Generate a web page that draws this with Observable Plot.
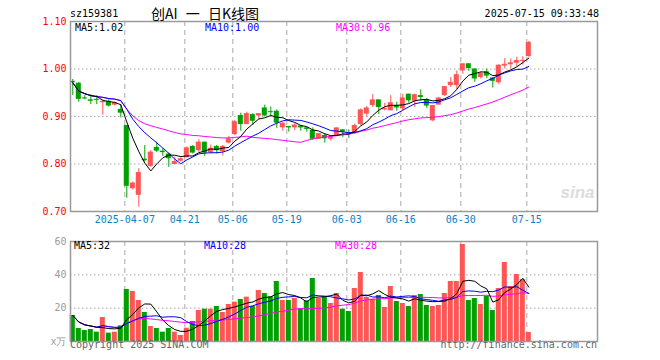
<!DOCTYPE html>
<html><head><meta charset="utf-8">
<script src="https://cdn.jsdelivr.net/npm/d3@7"></script>
<script src="https://cdn.jsdelivr.net/npm/@observablehq/plot@0.6"></script>
<style>
body{margin:0;background:#fff;}
#wrap{position:relative;width:660px;height:360px;overflow:hidden;font-family:"DejaVu Sans Mono",monospace;}
.t{position:absolute;white-space:pre;font-size:10px;line-height:12px;}
#wrap svg{position:absolute;left:0;}
</style></head><body><div id="wrap"></div>
<script>
// ---- data ----
const open = [0.974,0.970,0.939,0.935,0.936,0.929,0.932,0.924,0.915,0.881,
0.748,0.734,0.810,0.795,0.835,0.827,0.821,0.799,0.806,0.813,
0.837,0.828,0.846,0.824,0.837,0.826,0.844,0.862,0.902,0.883,
0.904,0.901,0.918,0.909,0.911,0.876,0.879,0.876,0.880,0.876,
0.871,0.852,0.860,0.852,0.858,0.872,0.865,0.865,0.883,0.905,
0.923,0.935,0.914,0.912,0.923,0.916,0.947,0.932,0.944,0.935,
0.891,0.924,0.944,0.965,0.965,0.996,1.011,1.000,0.982,0.994,
0.981,0.971,1.006,1.009,1.012,1.016,1.026];
const close = [0.971,0.936,0.937,0.932,0.934,0.932,0.922,0.929,0.907,0.753,
0.760,0.782,0.807,0.825,0.827,0.824,0.811,0.805,0.811,0.834,
0.823,0.846,0.823,0.833,0.828,0.837,0.853,0.889,0.883,0.906,
0.890,0.906,0.901,0.908,0.886,0.886,0.876,0.882,0.876,0.873,
0.852,0.864,0.853,0.856,0.876,0.867,0.863,0.881,0.914,0.918,
0.935,0.919,0.917,0.929,0.918,0.939,0.933,0.946,0.940,0.922,
0.923,0.939,0.963,0.972,0.988,1.011,1.001,0.979,0.991,0.985,
0.974,1.008,1.010,1.013,1.018,1.018,1.056];
const high = [0.978,0.972,0.944,0.946,0.944,0.934,0.935,0.930,0.925,0.881,
0.762,0.790,0.839,0.828,0.846,0.832,0.823,0.814,0.813,0.836,
0.839,0.851,0.846,0.840,0.839,0.839,0.858,0.892,0.907,0.909,
0.906,0.906,0.924,0.920,0.914,0.887,0.879,0.885,0.880,0.877,
0.876,0.864,0.864,0.858,0.876,0.872,0.872,0.884,0.916,0.921,
0.946,0.935,0.928,0.944,0.930,0.947,0.947,0.947,0.956,0.938,
0.923,0.940,0.963,0.982,0.996,1.011,1.011,1.000,0.993,1.000,
0.982,1.009,1.022,1.021,1.025,1.026,1.058];
const low = [0.944,0.930,0.935,0.925,0.925,0.903,0.920,0.922,0.897,0.728,
0.745,0.709,0.804,0.793,0.824,0.816,0.793,0.799,0.804,0.813,
0.821,0.824,0.816,0.821,0.821,0.817,0.842,0.860,0.869,0.883,
0.881,0.893,0.899,0.901,0.875,0.869,0.867,0.870,0.869,0.867,
0.850,0.852,0.844,0.848,0.858,0.856,0.854,0.863,0.881,0.898,
0.919,0.904,0.912,0.912,0.911,0.912,0.928,0.919,0.932,0.917,
0.889,0.924,0.942,0.961,0.956,0.989,0.995,0.972,0.979,0.980,
0.960,0.967,1.000,1.000,1.004,1.008,1.025];
const volume = [15.6,7.8,6.6,7.2,5.6,14.4,5.0,5.6,9.4,31.2,
30.0,24.6,17.4,9.0,7.8,5.6,7.8,5.6,3.6,8.0,
12.0,18.6,19.4,19.4,21.0,17.4,22.2,23.6,25.2,26.6,
21.0,30.6,28.8,26.8,36.0,24.6,24.6,25.8,19.6,24.4,
37.8,25.8,26.8,22.8,28.8,19.4,18.0,31.8,41.4,26.4,
25.4,27.6,20.4,33.0,24.0,22.8,21.0,27.6,28.2,21.6,
21.0,21.6,28.8,36.0,36.0,58.2,24.6,25.8,22.2,27.0,
18.6,31.8,47.4,33.0,40.2,37.2,5.4];
const tickIdx = [9,19,27,36,46,55,65,76];
const tickLabels = ["2025-04-07","04-21","05-06","05-19","06-03","06-16","06-30","07-15"];
const priceTicks = [0.70,0.80,0.90,1.00,1.10];
const volTicks = [0,20,40,60];
const priceMaLabels = ["MA5:1.02","MA10:1.00","MA30:0.96"];
const volMaLabels = ["MA5:32","MA10:28","MA30:28"];

// ---- build ----
const RED = "#ff5555", GREEN = "#00a000", GRID = "#a8a8a8", FRAME = "#9a9a9a";
const rows = open.map((o, i) => ({i, o, h: high[i], l: low[i], c: close[i], v: volume[i], up: close[i] >= o}));
const upRows = rows.filter(d => d.up), dnRows = rows.filter(d => !d.up);
const ma = (arr, n) => arr.map((_, i) => ({i, v: d3.mean(arr.slice(Math.max(0, i - n + 1), i + 1))}));
const xDomain = [-0.383, 87.45];
const font = {fontFamily: "'DejaVu Sans Mono', monospace", fontSize: "10px", background: "transparent", overflow: "visible"};
const W = 0.42;

function candles(data, color) {
  return [
    Plot.ruleX(data, {x: "i", y1: "l", y2: "h", stroke: color, strokeWidth: 1}),
    Plot.rect(data, {x1: d => d.i - W, x2: d => d.i + W,
      y1: d => Math.min(d.o, d.c),
      y2: d => Math.max(d.o, d.c, Math.min(d.o, d.c) + 0.0022),
      fill: color})
  ];
}
function maLines(arr) {
  return [
    Plot.line(ma(arr, 30), {x: "i", y: "v", stroke: "#ff00ff", strokeWidth: 1}),
    Plot.line(ma(arr, 10), {x: "i", y: "v", stroke: "#0000ff", strokeWidth: 1}),
    Plot.line(ma(arr, 5), {x: "i", y: "v", stroke: "#000", strokeWidth: 1})
  ];
}

const main = Plot.plot({
  width: 660, height: 232,
  marginLeft: 70, marginRight: 63, marginTop: 21, marginBottom: 21,
  x: {domain: xDomain, axis: null},
  y: {domain: [0.70, 1.10], axis: null},
  style: font,
  marks: [
    Plot.ruleY(priceTicks.slice(1, -1), {stroke: GRID, strokeDasharray: "1.5,2.5"}),
    Plot.ruleX(tickIdx, {x: d => d - 0.33, stroke: GRID, strokeDasharray: "5,4"}),
    Plot.text(["sina"], {frameAnchor: "bottom-right", dx: -3, dy: -14, fill: "#dcdcdc", fontSize: 17, fontWeight: "bold", fontStyle: "italic", fontFamily: "Liberation Sans, sans-serif"}),
    ...candles(upRows, RED),
    ...candles(dnRows, GREEN),
    ...maLines(close),
    Plot.axisY({ticks: priceTicks, tickFormat: d3.format(".2f"), tickSize: 0, tickPadding: 4, fill: "#ff0000", label: null}),
    Plot.text(tickIdx, {x: d => d - 0.33, text: (d, k) => tickLabels[k], frameAnchor: "bottom", dy: 11, fill: "#0a82c8"}),
    Plot.frame({stroke: FRAME, strokeWidth: 1.5})
  ]
});

const vol = Plot.plot({
  width: 660, height: 128,
  marginLeft: 70, marginRight: 63, marginTop: 9, marginBottom: 19,
  x: {domain: xDomain, axis: null},
  y: {domain: [0, 60], axis: null},
  style: font,
  marks: [
    Plot.ruleY([20, 40], {stroke: GRID, strokeDasharray: "1.5,2.5"}),
    Plot.ruleX(tickIdx, {x: d => d - 0.33, stroke: GRID, strokeDasharray: "5,4"}),
    Plot.rect(upRows, {x1: d => d.i - W, x2: d => d.i + W, y1: 0, y2: "v", fill: RED}),
    Plot.rect(dnRows, {x1: d => d.i - W, x2: d => d.i + W, y1: 0, y2: "v", fill: GREEN}),
    ...maLines(volume),
    Plot.axisY({ticks: volTicks, tickFormat: d => d === 0 ? "x万" : String(d), tickSize: 0, tickPadding: 4, fill: "#9a9a9a", label: null}),
    Plot.frame({stroke: FRAME, strokeWidth: 1.5})
  ]
});

const wrap = document.getElementById("wrap");
main.style.top = "0px";
vol.style.top = "232px";
wrap.appendChild(main);
wrap.appendChild(vol);

function addText(txt, css) {
  const d = document.createElement("div");
  d.className = "t";
  d.textContent = txt;
  Object.assign(d.style, css);
  wrap.appendChild(d);
}
addText("sz159381", {left: "70px", top: "8px", color: "#000"});
addText("创AI 一 日K线图", {left: "151px", top: "5px", fontSize: "14px", lineHeight: "16px", fontFamily: "'Noto Sans CJK SC', sans-serif", wordSpacing: "5px", color: "#000"});
addText("2025-07-15 09:33:48", {right: "61px", top: "8px", color: "#000"});
const maColors = ["#000", "#0000ff", "#ff00ff"];
const maLeft = [75, 205, 336];
priceMaLabels.forEach((s, k) => addText(s, {left: maLeft[k] + "px", top: "22px", color: maColors[k]}));
volMaLabels.forEach((s, k) => addText(s, {left: (maLeft[k] - 1) + "px", top: "240px", color: maColors[k]}));
addText("Copyright 2025 SINA.COM", {left: "70px", top: "339px", color: "#666"});
addText("http://finance.sina.com.cn", {right: "63px", top: "339px", color: "#666"});
</script>
</body></html>
